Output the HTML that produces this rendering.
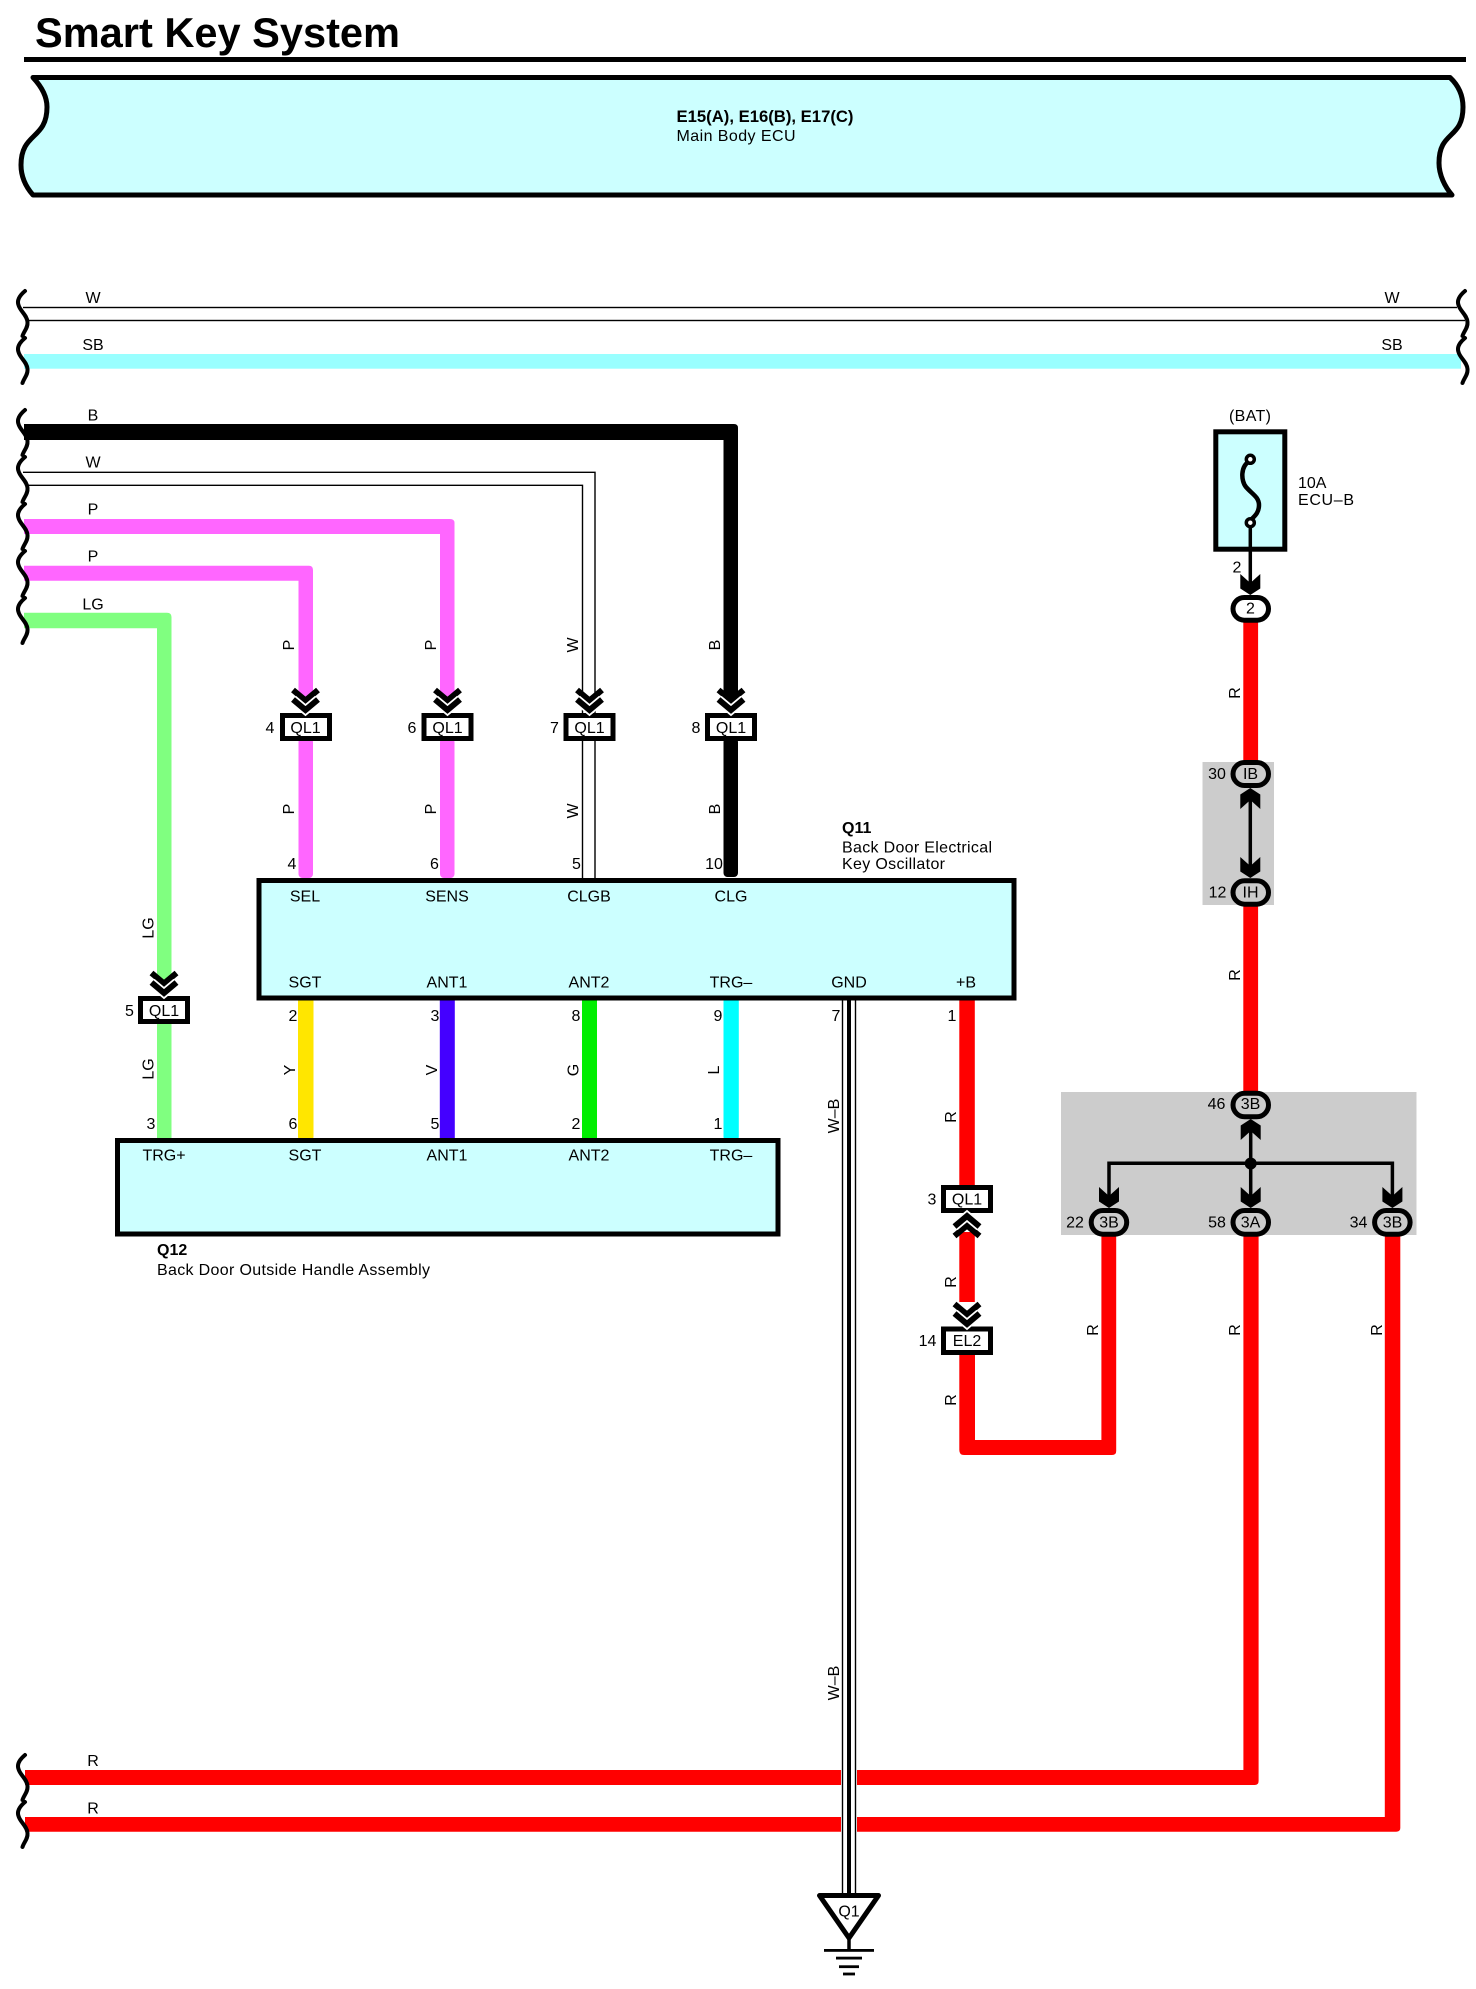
<!DOCTYPE html>
<html>
<head>
<meta charset="utf-8">
<title>Smart Key System</title>
<style>
html,body{margin:0;padding:0;background:#fff}
svg{display:block}
text{font-family:"Liberation Sans",Arial,sans-serif;font-size:16px;fill:#000}
.m{text-anchor:middle}
.b{font-weight:bold}
</style>
</head>
<body>
<svg xmlns="http://www.w3.org/2000/svg" width="1476" height="1989" viewBox="0 0 1476 1989">
<defs>
<path id="sq" d="M25 0C19 5 17 10 18.5 14C20 20 27 24 27.5 31C28 37 24 40 22.5 45" fill="none" stroke="#000" stroke-width="4" stroke-linecap="round"/>
<g id="cv" fill="none" stroke-linejoin="miter">
<polyline points="-12.5,-23 0,-12.5 12.5,-23" stroke="#000" stroke-width="6"/>
<polyline points="-12.5,-13.5 0,-3 12.5,-13.5" stroke="#fff" stroke-width="9.5"/>
<polyline points="-12.5,-13.5 0,-3 12.5,-13.5" stroke="#000" stroke-width="6"/>
</g>
<path id="ah" d="M-10 -21L0 -12L10 -21V-6.5L0 0L-10 -6.5Z" fill="#000"/>
</defs>

<rect width="1476" height="1989" fill="#fff"/>

<!-- Title -->
<text x="35" y="47" class="b" style="font-size:41.5px" textLength="365" lengthAdjust="spacingAndGlyphs">Smart Key System</text>
<rect x="24" y="57" width="1442" height="5" fill="#000"/>

<!-- ECU body -->
<path d="M33 77.5H1450C1458 85 1463 95 1463 107C1463 140 1439 130 1439 163C1439 175 1445 187 1452 195H33C26 187 21 177 21 165C21 132 47 140 47 107C47 95 40 85 33 77.5Z" fill="#ccffff" stroke="#000" stroke-width="5" stroke-linejoin="round"/>
<text x="676.5" y="122" class="b" style="font-size:16.5px" textLength="177" lengthAdjust="spacingAndGlyphs">E15(A), E16(B), E17(C)</text>
<text x="676.5" y="141" textLength="119">Main Body ECU</text>

<!-- Gray splice areas -->
<rect x="1202.5" y="762" width="71.5" height="143" fill="#cccccc"/>
<rect x="1061" y="1092" width="355.5" height="143" fill="#cccccc"/>

<!-- Top bus wires -->
<rect x="23" y="306.8" width="1434" height="1.4" fill="#000"/>
<rect x="28" y="319.8" width="1437" height="1.4" fill="#000"/>
<rect x="24" y="354" width="1437" height="14.7" fill="#99ffff"/>

<!-- B wire -->
<path d="M24 424H734Q738 424 738 428V700H723.5V440H24Z" fill="#000"/>
<rect x="723.5" y="738" width="14.5" height="139" rx="4" fill="#000"/>

<!-- W double wire -->
<path d="M23 472.3H595V878M28 485.3H582.5V878" fill="none" stroke="#000" stroke-width="1.4"/>

<!-- P wires -->
<path d="M24 519H450Q454.5 519 454.5 523V697H440V534H24Z" fill="#ff66ff"/>
<rect x="440" y="738" width="14.5" height="140" rx="4" fill="#ff66ff"/>
<path d="M24 565.7H309Q313 565.7 313 570V697H298.5V580.7H24Z" fill="#ff66ff"/>
<rect x="298.5" y="738" width="14.5" height="140" rx="4" fill="#ff66ff"/>

<!-- LG wire -->
<path d="M24 612.7H167Q171.5 612.7 171.5 617V980H157V628.3H24Z" fill="#80ff80"/>
<rect x="157" y="1022" width="14.5" height="117" fill="#80ff80"/>

<!-- Q11 to Q12 wires -->
<rect x="298" y="998" width="15.5" height="142" rx="3" fill="#ffe600"/>
<rect x="439.8" y="998" width="15" height="142" fill="#4400ff"/>
<rect x="582" y="998" width="15" height="142" fill="#00ee00"/>
<rect x="723.5" y="998" width="15.3" height="142" rx="3" fill="#00ffff"/>

<!-- Red wires -->
<rect x="1243.3" y="620" width="14.8" height="142" fill="#ff0000"/>
<rect x="1243.3" y="904" width="14.8" height="190" fill="#ff0000"/>
<rect x="959.3" y="998" width="15.5" height="190" fill="#ff0000"/>
<rect x="959.3" y="1232" width="15.5" height="70" fill="#ff0000"/>
<path d="M959.3 1353H975V1440H1101.4V1234H1116.2V1451Q1116.2 1455 1112 1455H964Q959.3 1455 959.3 1450Z" fill="#ff0000"/>
<path d="M25 1770H841V1785H25Z" fill="#ff0000"/>
<path d="M25 1817H841V1831.7H25Z" fill="#ff0000"/>
<path d="M857 1770H1243.4V1234H1258.6V1781Q1258.6 1785 1254.6 1785H857Z" fill="#ff0000"/>
<path d="M857 1817H1384.8V1234H1400.3V1828Q1400.3 1831.7 1396 1831.7H857Z" fill="#ff0000"/>

<!-- W-B ground wire -->
<rect x="847" y="998" width="4" height="897" fill="#000"/>
<path d="M842.5 998V1895M855.5 998V1895" fill="none" stroke="#000" stroke-width="1.4"/>

<!-- Q11 -->
<rect x="259" y="880.5" width="755" height="117.5" fill="#ccffff" stroke="#000" stroke-width="5"/>
<text x="305" y="901.5" class="m">SEL</text>
<text x="447" y="901.5" class="m">SENS</text>
<text x="589" y="901.5" class="m">CLGB</text>
<text x="731" y="901.5" class="m">CLG</text>
<text x="305" y="987.5" class="m">SGT</text>
<text x="447" y="987.5" class="m">ANT1</text>
<text x="589" y="987.5" class="m">ANT2</text>
<text x="731" y="987.5" class="m">TRG–</text>
<text x="849" y="987.5" class="m">GND</text>
<text x="966" y="987.5" class="m">+B</text>
<text x="842" y="833" class="b">Q11</text>
<text x="842" y="852.5" textLength="150">Back Door Electrical</text>
<text x="842" y="869" textLength="103">Key Oscillator</text>

<!-- Q12 -->
<rect x="117.5" y="1140.5" width="660.5" height="93.5" fill="#ccffff" stroke="#000" stroke-width="5"/>
<text x="164" y="1160.5" class="m">TRG+</text>
<text x="305" y="1160.5" class="m">SGT</text>
<text x="447" y="1160.5" class="m">ANT1</text>
<text x="589" y="1160.5" class="m">ANT2</text>
<text x="731" y="1160.5" class="m">TRG–</text>
<text x="157" y="1255" class="b">Q12</text>
<text x="157" y="1275" textLength="273">Back Door Outside Handle Assembly</text>

<!-- QL1 connectors -->
<g fill="#fff" stroke="#000" stroke-width="5">
<rect x="282.5" y="715.5" width="47" height="23"/>
<rect x="424" y="715.5" width="47" height="23"/>
<rect x="566" y="715.5" width="47" height="23"/>
<rect x="707.5" y="715.5" width="47" height="23"/>
<rect x="140.5" y="998.5" width="47" height="23"/>
<rect x="943.5" y="1187.5" width="47" height="23"/>
<rect x="943.5" y="1329" width="47" height="23.5"/>
</g>
<use href="#cv" x="305.5" y="713"/>
<use href="#cv" x="447.5" y="713"/>
<use href="#cv" x="589.5" y="713"/>
<use href="#cv" x="731" y="713"/>
<use href="#cv" x="164" y="996"/>
<use href="#cv" x="967" y="1327"/>
<use href="#cv" transform="translate(967 1213) scale(1 -1)"/>

<text x="305.5" y="733" class="m">QL1</text>
<text x="447.5" y="733" class="m">QL1</text>
<text x="589.5" y="733" class="m">QL1</text>
<text x="731" y="733" class="m">QL1</text>
<text x="164" y="1016" class="m">QL1</text>
<text x="967" y="1204.5" class="m">QL1</text>
<text x="967" y="1346" class="m">EL2</text>

<text x="270" y="733" class="m">4</text>
<text x="412" y="733" class="m">6</text>
<text x="554.5" y="733" class="m">7</text>
<text x="696" y="733" class="m">8</text>
<text x="129.5" y="1016" class="m">5</text>
<text x="932" y="1204.5" class="m">3</text>
<text x="927.5" y="1346" class="m">14</text>

<!-- Pin numbers -->
<text x="292" y="869" class="m">4</text>
<text x="434.5" y="869" class="m">6</text>
<text x="576.5" y="869" class="m">5</text>
<text x="714" y="869" class="m">10</text>
<text x="293" y="1021" class="m">2</text>
<text x="435" y="1021" class="m">3</text>
<text x="576" y="1021" class="m">8</text>
<text x="718" y="1021" class="m">9</text>
<text x="836" y="1021" class="m">7</text>
<text x="952" y="1021" class="m">1</text>
<text x="151" y="1129" class="m">3</text>
<text x="293" y="1129" class="m">6</text>
<text x="435" y="1129" class="m">5</text>
<text x="576" y="1129" class="m">2</text>
<text x="718" y="1129" class="m">1</text>

<!-- Horizontal wire labels -->
<text x="93" y="303" class="m">W</text>
<text x="93" y="350" class="m">SB</text>
<text x="1392" y="303" class="m">W</text>
<text x="1392" y="350" class="m">SB</text>
<text x="93" y="420.5" class="m">B</text>
<text x="93" y="467.5" class="m">W</text>
<text x="93" y="514.5" class="m">P</text>
<text x="93" y="561.5" class="m">P</text>
<text x="93" y="609.5" class="m">LG</text>
<text x="93" y="1766" class="m">R</text>
<text x="93" y="1813.5" class="m">R</text>

<!-- Rotated wire labels -->
<text class="m" transform="translate(294 645) rotate(-90)">P</text>
<text class="m" transform="translate(294 809) rotate(-90)">P</text>
<text class="m" transform="translate(436 645) rotate(-90)">P</text>
<text class="m" transform="translate(436 809) rotate(-90)">P</text>
<text class="m" transform="translate(578 645) rotate(-90)">W</text>
<text class="m" transform="translate(578 811) rotate(-90)">W</text>
<text class="m" transform="translate(720 645) rotate(-90)">B</text>
<text class="m" transform="translate(720 809) rotate(-90)">B</text>
<text class="m" transform="translate(153.5 928) rotate(-90)">LG</text>
<text class="m" transform="translate(153.5 1069) rotate(-90)">LG</text>
<text class="m" transform="translate(295 1070) rotate(-90)">Y</text>
<text class="m" transform="translate(437 1070) rotate(-90)">V</text>
<text class="m" transform="translate(578.5 1070) rotate(-90)">G</text>
<text class="m" transform="translate(719 1070) rotate(-90)">L</text>
<text class="m" transform="translate(839 1116) rotate(-90)">W–B</text>
<text class="m" transform="translate(839 1683) rotate(-90)">W–B</text>
<text class="m" transform="translate(1240 693) rotate(-90)">R</text>
<text class="m" transform="translate(1240 975) rotate(-90)">R</text>
<text class="m" transform="translate(956 1117) rotate(-90)">R</text>
<text class="m" transform="translate(956 1282) rotate(-90)">R</text>
<text class="m" transform="translate(956 1400) rotate(-90)">R</text>
<text class="m" transform="translate(1098 1330) rotate(-90)">R</text>
<text class="m" transform="translate(1240 1330) rotate(-90)">R</text>
<text class="m" transform="translate(1382 1330) rotate(-90)">R</text>

<!-- Fuse -->
<text x="1250" y="421" class="m" textLength="42">(BAT)</text>
<rect x="1215.8" y="431.8" width="69" height="117.4" fill="#ccffff" stroke="#000" stroke-width="5"/>
<path d="M1250 461C1240 466 1241 481 1246 487C1252 494 1259 497 1259 505C1259 514 1253 517 1250 521" fill="none" stroke="#000" stroke-width="4.5"/>
<path d="M1250.3 525V585" stroke="#000" stroke-width="3.5"/>
<circle cx="1250.3" cy="459.3" r="4" fill="#fff" stroke="#000" stroke-width="3.5"/>
<circle cx="1250.3" cy="522.7" r="4" fill="#fff" stroke="#000" stroke-width="3.5"/>
<text x="1298" y="488">10A</text>
<text x="1298" y="505" textLength="56">ECU–B</text>
<text x="1237" y="572.5" class="m">2</text>
<use href="#ah" x="1250.3" y="595"/>

<!-- Splice lines and arrows -->
<path d="M1250.3 795V870" stroke="#000" stroke-width="3.5"/>
<use href="#ah" transform="translate(1250.3 788) scale(1 -1)"/>
<use href="#ah" x="1250.3" y="878"/>

<path d="M1250.7 1130V1200M1109 1200V1163.3H1392.4V1200" fill="none" stroke="#000" stroke-width="3.5"/>
<circle cx="1250.7" cy="1163.5" r="6" fill="#000"/>
<use href="#ah" transform="translate(1250.7 1119) scale(1 -1)"/>
<use href="#ah" x="1109" y="1208"/>
<use href="#ah" x="1250.7" y="1208"/>
<use href="#ah" x="1392.4" y="1208"/>

<!-- Ovals -->
<g stroke="#000" stroke-width="5">
<rect x="1233" y="597.5" width="35.5" height="22.7" rx="11.3" fill="#fff"/>
<rect x="1233" y="762.5" width="35.5" height="23" rx="11.5" fill="#cccccc"/>
<rect x="1233" y="880.8" width="35.5" height="23.4" rx="11.7" fill="#cccccc"/>
<rect x="1233" y="1093.2" width="35.5" height="23.6" rx="11.8" fill="#cccccc"/>
<rect x="1091.2" y="1210.5" width="35.5" height="23.7" rx="11.8" fill="#cccccc"/>
<rect x="1233" y="1210.5" width="35.5" height="23.7" rx="11.8" fill="#cccccc"/>
<rect x="1374.6" y="1210.5" width="35.5" height="23.7" rx="11.8" fill="#cccccc"/>
</g>
<text x="1250.5" y="613.5" class="m">2</text>
<text x="1250.5" y="779" class="m">IB</text>
<text x="1250.5" y="897.5" class="m">IH</text>
<text x="1250.5" y="1109" class="m">3B</text>
<text x="1109" y="1227.5" class="m">3B</text>
<text x="1250.5" y="1227.5" class="m">3A</text>
<text x="1392.5" y="1227.5" class="m">3B</text>
<text x="1217" y="779" class="m">30</text>
<text x="1217.5" y="897.5" class="m">12</text>
<text x="1216.5" y="1109" class="m">46</text>
<text x="1075" y="1227.5" class="m">22</text>
<text x="1217" y="1227.5" class="m">58</text>
<text x="1358.5" y="1227.5" class="m">34</text>

<!-- Ground -->
<polygon points="819.5,1895.5 878.5,1895.5 849,1938" fill="#fff" stroke="#000" stroke-width="5" stroke-linejoin="round"/>
<path d="M849 1938V1950" stroke="#000" stroke-width="3.5"/>
<rect x="824" y="1949" width="50" height="2.8" fill="#000"/>
<rect x="836" y="1956.7" width="26" height="2.8" fill="#000"/>
<rect x="839" y="1965.3" width="20" height="2.8" fill="#000"/>
<rect x="843" y="1972.6" width="12" height="2.8" fill="#000"/>
<text x="849" y="1916.5" class="m">Q1</text>

<!-- Squiggles -->
<use href="#sq" x="0" y="291"/>
<use href="#sq" x="0" y="338"/>
<use href="#sq" x="1440" y="291"/>
<use href="#sq" x="1440" y="338"/>
<use href="#sq" x="0" y="410"/>
<use href="#sq" x="0" y="457"/>
<use href="#sq" x="0" y="504"/>
<use href="#sq" x="0" y="551"/>
<use href="#sq" x="0" y="598"/>
<use href="#sq" x="0" y="1755"/>
<use href="#sq" x="0" y="1802"/>
</svg>
</body>
</html>
